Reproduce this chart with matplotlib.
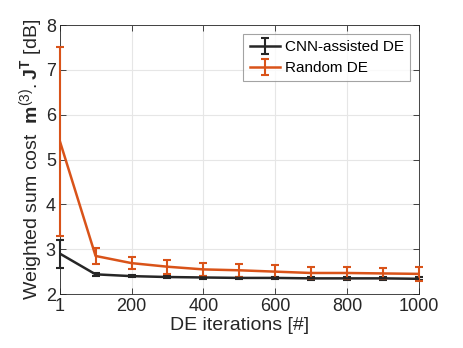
import matplotlib.pyplot as plt
import numpy as np

plt.rcParams['font.family'] = ['Liberation Sans', 'DejaVu Sans']
plt.rcParams['mathtext.fontset'] = 'custom'
plt.rcParams['mathtext.rm'] = 'Liberation Sans'
plt.rcParams['mathtext.bf'] = 'Liberation Sans:bold'

iters = [1, 100, 200, 300, 400, 500, 600, 700, 800, 900, 1000]

cnn_mean = [2.90, 2.44, 2.40, 2.38, 2.37, 2.36, 2.36, 2.35, 2.35, 2.35, 2.34]
cnn_err = [0.31, 0.03, 0.03, 0.03, 0.03, 0.03, 0.03, 0.03, 0.03, 0.03, 0.03]

rnd_mean = [5.40, 2.85, 2.69, 2.61, 2.55, 2.53, 2.50, 2.47, 2.47, 2.46, 2.45]
rnd_err = [2.10, 0.18, 0.14, 0.16, 0.15, 0.15, 0.15, 0.13, 0.13, 0.13, 0.15]

black = '#262626'
orange = '#D95319'

fig = plt.figure(figsize=(4.63, 3.48), dpi=100)
ax = fig.add_axes([0.1296, 0.155, 0.7754, 0.773])

for m_, e_, c_, lab in [(cnn_mean, cnn_err, black, 'CNN-assisted DE'),
                        (rnd_mean, rnd_err, orange, 'Random DE')]:
    eb = ax.errorbar(iters, m_, yerr=e_, color=c_, lw=1.8, capsize=3,
                     elinewidth=1.5, capthick=1.5, label=lab, zorder=3)
    for art in eb.lines[1] + eb.lines[2]:
        art.set_clip_on(False)

ax.set_xlim(1, 1000)
ax.set_ylim(2, 8)
ax.set_xticks([1, 200, 400, 600, 800, 1000])
ax.set_yticks([2, 3, 4, 5, 6, 7, 8])
ax.grid(True, color='#e6e6e6', lw=0.8)
ax.set_axisbelow(True)
ax.tick_params(direction='in', top=True, right=True, labelsize=13,
               colors='#262626', length=4, width=0.6, pad=3)
for s in ax.spines.values():
    s.set_color('#262626')
    s.set_linewidth(0.6)

ax.set_xlabel('DE iterations [#]', fontsize=14, color='#262626', labelpad=1)
ax.set_ylabel(r'Weighted sum cost  $\mathbf{m}^{(3)}{.}\mathbf{J}^{\mathbf{T}}$ [dB]',
              fontsize=14, color='#262626', labelpad=0)

leg = ax.legend(loc='upper right', fontsize=11, frameon=True, fancybox=False,
                edgecolor='#8c8c8c', borderpad=0.4, handlelength=2.0,
                handletextpad=0.3, labelspacing=0.45, borderaxespad=0.6)
leg.get_frame().set_linewidth(0.8)

fig.savefig('out.png', dpi=100)
